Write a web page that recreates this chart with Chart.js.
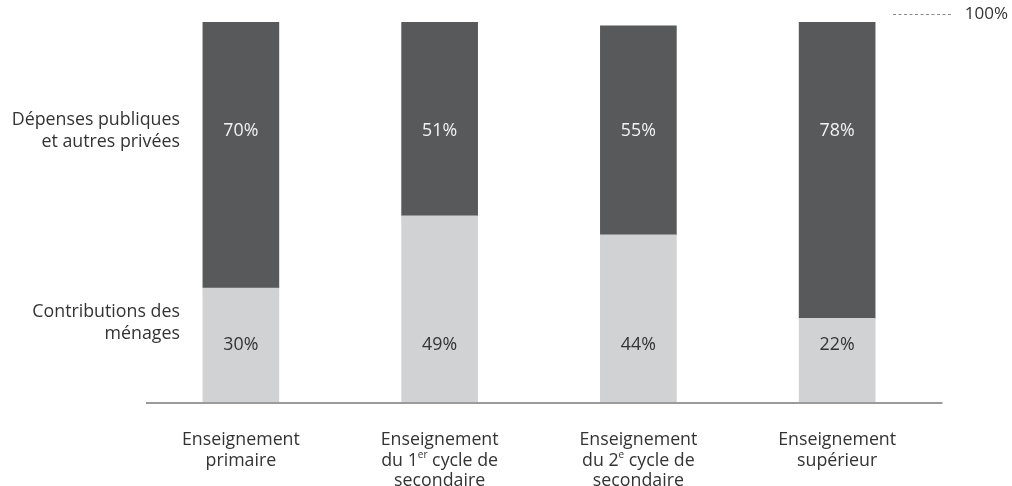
<!DOCTYPE html>
<html lang="fr">
<head>
<meta charset="utf-8">
<title>Répartition des dépenses d'éducation</title>
<script src="https://cdn.jsdelivr.net/npm/chart.js@4/dist/chart.umd.min.js"></script>
<style>
  html, body { margin: 0; padding: 0; background: #ffffff; }
  #wrap { position: relative; width: 1012px; height: 486px; }
</style>
</head>
<body>
<div id="wrap"><canvas id="chart" width="1012" height="486"></canvas></div>
<script>
// Niveaux d'enseignement ; {..} marque un exposant
const categories = [
  ['Enseignement', 'primaire'],
  ['Enseignement', 'du 1{er} cycle de', 'secondaire'],
  ['Enseignement', 'du 2{e} cycle de', 'secondaire'],
  ['Enseignement', 'supérieur']
];
// Part des contributions des ménages (%)
const menages = [30, 49, 44, 22];
// Part des dépenses publiques et autres privées (%)
const publiques = [70, 51, 55, 78];
// Libellés des séries, à gauche des barres
const seriesLabels = [
  ['Contributions des', 'ménages'],
  ['Dépenses publiques', 'et autres privées']
];
// Repère du total
const totalValue = 100;
const totalLabel = '100%';

const FONT = '"Open Sans", "Noto Sans", sans-serif';
const TEXT = '#333333';
const DARK = '#58595b';
const LIGHT = '#d1d2d4';
const SIZE = 17.8;

function drawRich(ctx, line, cx, cy, size) {
  const parts = [];
  const re = /\{([^}]+)\}/g;
  let last = 0, m;
  while ((m = re.exec(line)) !== null) {
    if (m.index > last) parts.push({ t: line.slice(last, m.index), sup: false });
    parts.push({ t: m[1], sup: true });
    last = re.lastIndex;
  }
  if (last < line.length) parts.push({ t: line.slice(last), sup: false });
  const supSize = Math.round(size * 0.55);
  let total = 0;
  parts.forEach(p => {
    ctx.font = (p.sup ? supSize : size) + 'px ' + FONT;
    p.w = ctx.measureText(p.t).width;
    total += p.w;
  });
  let x = cx - total / 2;
  ctx.textAlign = 'left';
  ctx.textBaseline = 'middle';
  parts.forEach(p => {
    ctx.font = (p.sup ? supSize : size) + 'px ' + FONT;
    ctx.fillText(p.t, x, p.sup ? cy - size * 0.28 : cy);
    x += p.w;
  });
}

const annotations = {
  id: 'annotations',
  afterDatasetsDraw(chart) {
    const ctx = chart.ctx;
    const area = chart.chartArea;
    const y = chart.scales.y;
    const barsLow = chart.getDatasetMeta(0).data;
    const barsHigh = chart.getDatasetMeta(1).data;
    ctx.save();

    // Ligne de base
    ctx.strokeStyle = '#9b9b9b';
    ctx.lineWidth = 2;
    ctx.beginPath();
    ctx.moveTo(area.left + 4.5, area.bottom + 1);
    ctx.lineTo(area.right + 6, area.bottom + 1);
    ctx.stroke();

    // Repère 100 %
    const yTop = y.getPixelForValue(totalValue) - 8;
    ctx.strokeStyle = '#8a8a8a';
    ctx.lineWidth = 1;
    ctx.setLineDash([3, 2.5]);
    ctx.beginPath();
    ctx.moveTo(893, yTop + 0.5);
    ctx.lineTo(951, yTop + 0.5);
    ctx.stroke();
    ctx.setLineDash([]);
    ctx.fillStyle = TEXT;
    ctx.font = '17px ' + FONT;
    ctx.textAlign = 'right';
    ctx.textBaseline = 'middle';
    ctx.fillText(totalLabel, 1008, yTop);

    // Valeurs dans les barres
    ctx.font = SIZE + 'px ' + FONT;
    ctx.textAlign = 'center';
    const yLow = y.getPixelForValue(15);
    const yHigh = y.getPixelForValue(71.3);
    barsLow.forEach((b, i) => {
      ctx.fillStyle = TEXT;
      ctx.fillText(menages[i] + '%', b.x, yLow);
    });
    barsHigh.forEach((b, i) => {
      ctx.fillStyle = '#f2f2f2';
      ctx.fillText(publiques[i] + '%', b.x, yHigh);
    });

    // Libellés des séries
    const first = barsLow[0];
    const lx = first.x - first.width / 2 - 23;
    ctx.fillStyle = TEXT;
    ctx.textAlign = 'right';
    const lh = 22.5;
    const centers = [y.getPixelForValue(20.8), y.getPixelForValue(71.3)];
    seriesLabels.forEach((lines, s) => {
      const c = centers[s];
      lines.forEach((t, k) => {
        ctx.fillText(t, lx, c + (k - (lines.length - 1) / 2) * lh);
      });
    });

    // Catégories sous l'axe
    ctx.fillStyle = TEXT;
    barsLow.forEach((b, i) => {
      categories[i].forEach((line, k) => {
        drawRich(ctx, line, b.x, area.bottom + 38 + k * 20.5, SIZE);
      });
    });

    ctx.restore();
  }
};

new Chart(document.getElementById('chart'), {
  type: 'bar',
  data: {
    labels: categories.map(c => c.join(' ')),
    datasets: [
      { label: seriesLabels[0].join(' '), data: menages, backgroundColor: LIGHT, borderWidth: 0, barThickness: 76 },
      { label: seriesLabels[1].join(' '), data: publiques, backgroundColor: DARK, borderWidth: 0, barThickness: 76 }
    ]
  },
  options: {
    responsive: false,
    animation: false,
    devicePixelRatio: 1,
    layout: { padding: { left: 141.5, right: 75.5, top: 22, bottom: 84 } },
    plugins: { legend: { display: false }, tooltip: { enabled: false } },
    scales: {
      x: { stacked: true, display: false },
      y: { stacked: true, display: false, min: 0, max: 100 }
    }
  },
  plugins: [annotations]
});
</script>
</body>
</html>
